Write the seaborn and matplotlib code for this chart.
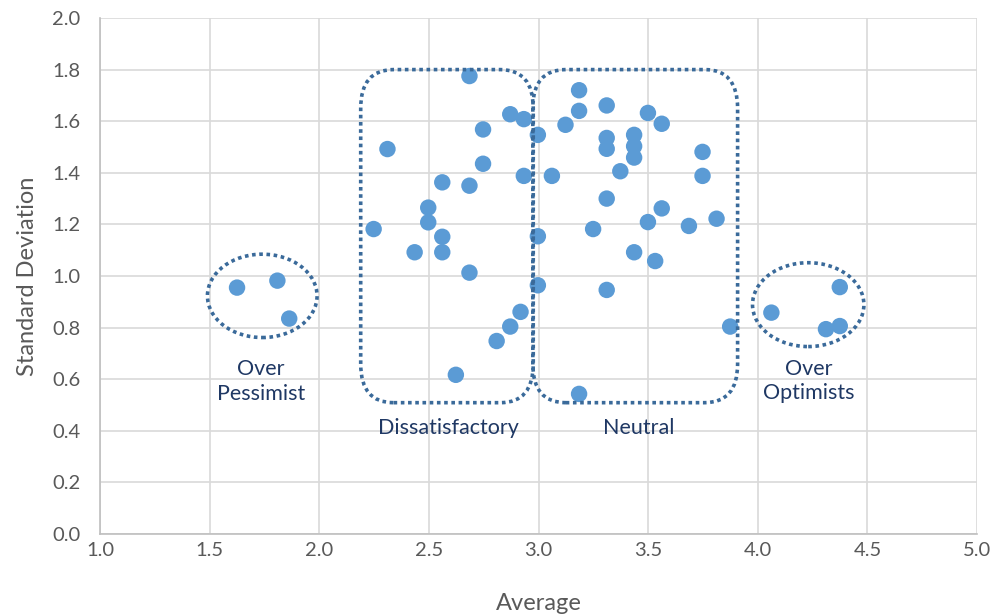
import matplotlib
matplotlib.use("Agg")
import matplotlib.pyplot as plt
import seaborn as sns
import pandas as pd
from matplotlib.patches import FancyBboxPatch, Ellipse

average = [1.625, 1.809, 1.863,
           2.248, 2.311, 2.435, 2.497, 2.497, 2.561, 2.561, 2.561, 2.623, 2.685, 2.685, 2.685,
           2.747, 2.747, 2.809, 2.871, 2.871, 2.918, 2.933, 2.933,
           2.997, 2.997, 2.997, 3.061, 3.123, 3.185, 3.185, 3.185, 3.249, 3.311, 3.311, 3.311,
           3.311, 3.311, 3.373, 3.436, 3.436, 3.436, 3.436, 3.499, 3.499, 3.532, 3.562, 3.562,
           3.686, 3.748, 3.748, 3.812, 3.874,
           4.062, 4.311, 4.374, 4.374]
std_dev = [0.955, 0.982, 0.835,
           1.182, 1.492, 1.092, 1.265, 1.208, 1.363, 1.152, 1.092, 0.617, 1.775, 1.350, 1.013,
           1.568, 1.435, 0.748, 1.627, 0.804, 0.861, 1.608, 1.388,
           1.547, 1.154, 0.964, 1.388, 1.586, 1.720, 1.640, 0.543, 1.182, 1.661, 1.535, 1.493,
           1.300, 0.946, 1.406, 1.547, 1.503, 1.459, 1.092, 1.632, 1.209, 1.058, 1.590, 1.262,
           1.194, 1.481, 1.388, 1.222, 0.804,
           0.858, 0.794, 0.806, 0.957]

x_ticks = [1.0, 1.5, 2.0, 2.5, 3.0, 3.5, 4.0, 4.5, 5.0]
y_ticks = [0.0, 0.2, 0.4, 0.6, 0.8, 1.0, 1.2, 1.4, 1.6, 1.8, 2.0]

group_labels = ["Over\nPessimist", "Dissatisfactory", "Neutral", "Over\nOptimists"]
label_x = [1.735, 2.589, 3.456, 4.232]
label_y = [0.59, 0.41, 0.41, 0.593]

sns.set_theme(style="white")
plt.rcParams['font.family'] = ['Lato', 'DejaVu Sans']

df = pd.DataFrame({"Average": average, "Standard Deviation": std_dev})

fig = plt.figure(figsize=(9.98, 6.16), dpi=100)
ax = fig.add_axes([0.1002, 0.1331, 0.8788, 0.8377])

sns.scatterplot(data=df, x="Average", y="Standard Deviation", ax=ax,
                color="#5B9BD5", s=140, edgecolor="none", zorder=3)

ax.set_xlim(1.0, 5.0)
ax.set_ylim(0.0, 2.0)
ax.set_xticks(x_ticks)
ax.set_yticks(y_ticks)
ax.set_xticklabels([f"{v:.1f}" for v in x_ticks])
ax.set_yticklabels([f"{v:.1f}" for v in y_ticks])
ax.grid(True, color="#D9D9D9", linewidth=1.2, zorder=0)
ax.set_axisbelow(True)
for s in ["top", "right"]:
    ax.spines[s].set_visible(False)
for s in ["left", "bottom"]:
    ax.spines[s].set_color("#BFBFBF")
    ax.spines[s].set_linewidth(1.2)
ax.tick_params(axis="both", labelsize=14.5, colors="#595959", length=0)
ax.tick_params(axis="x", pad=6)
ax.tick_params(axis="y", pad=14)
ax.set_xlabel("Average", fontsize=17, color="#595959", labelpad=24)
ax.set_ylabel("Standard Deviation", fontsize=17, color="#595959", labelpad=10)

box_color = "#3A6A9A"
ls = (0, (1.0, 1.0))
lw = 2.6
for (x0, x1) in [(2.189, 2.976), (2.974, 3.908)]:
    p = FancyBboxPatch((x0, 0.509), x1 - x0, 1.80 - 0.509,
                       boxstyle="round,pad=0,rounding_size=0.15",
                       fill=False, edgecolor=box_color, linewidth=lw,
                       linestyle=ls, zorder=4)
    ax.add_patch(p)

for (cx, cy, w, h) in [(1.740, 0.923, 0.50, 0.323), (4.230, 0.889, 0.508, 0.325)]:
    e = Ellipse((cx, cy), w, h, fill=False, edgecolor=box_color,
                linewidth=lw, linestyle=ls, zorder=4)
    ax.add_patch(e)

for t, x, y in zip(group_labels, label_x, label_y):
    ax.text(x, y, t, ha="center", va="center", fontsize=15.5, color="#1F3864",
            linespacing=1.3, zorder=5)

fig.savefig("out.png", dpi=100)
